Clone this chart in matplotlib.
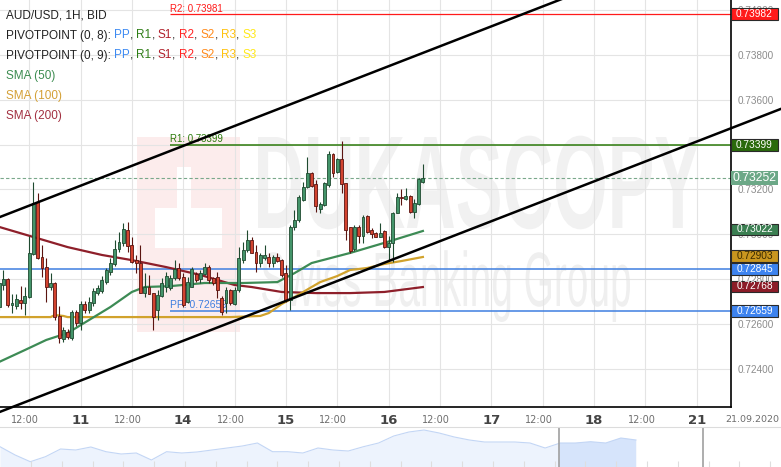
import matplotlib
matplotlib.use('Agg')
import matplotlib.pyplot as plt
import numpy as np
from matplotlib.patches import Rectangle, PathPatch
from matplotlib.textpath import TextPath
from matplotlib.font_manager import FontProperties
from matplotlib.ticker import FormatStrFormatter
from matplotlib.transforms import Affine2D, blended_transform_factory, offset_copy

W, H = 781, 467
plt.rcParams['font.family'] = 'Liberation Sans'

# hourly candles, hour 0 = 11.09 00:00 (weekend hours skipped)
first_hour = -19
opens = [0.72676, 0.72774, 0.72800, 0.72685, 0.72680, 0.72707, 0.72694, 0.72720, 0.72912, 0.73144,
         0.72898, 0.72854, 0.72765, 0.72783, 0.72636, 0.72533, 0.72564, 0.72538, 0.72653, 0.72605,
         0.72689, 0.72662, 0.72694, 0.72738, 0.72747, 0.72787, 0.72832, 0.72867, 0.72935, 0.72962,
         0.73019, 0.72953, 0.72885, 0.72872, 0.72738, 0.72765, 0.72738, 0.72662, 0.72725, 0.72765,
         0.72760, 0.72805, 0.72850, 0.72809, 0.72698, 0.72765, 0.72823, 0.72800, 0.72823, 0.72854,
         0.72805, 0.72809, 0.72716, 0.72694, 0.72752, 0.72689, 0.72752, 0.72885, 0.72930, 0.72975,
         0.72921, 0.72872, 0.72894, 0.72898, 0.72872, 0.72898, 0.72885, 0.72827, 0.72707, 0.73033,
         0.73064, 0.73153, 0.73211, 0.73274, 0.73224, 0.73113, 0.73131, 0.73220, 0.73358, 0.73278,
         0.73336, 0.73229, 0.73033, 0.72935, 0.73033, 0.72993, 0.73082, 0.73019, 0.73006, 0.72988,
         0.73015, 0.72944, 0.72962, 0.73095, 0.73166, 0.73158, 0.73171, 0.73100, 0.73135, 0.73233]
highs = [0.72796, 0.72841, 0.72805, 0.72734, 0.72734, 0.72769, 0.72765, 0.72993, 0.73233, 0.73185,
         0.72953, 0.72894, 0.72827, 0.72787, 0.72680, 0.72587, 0.72578, 0.72662, 0.72662, 0.72703,
         0.72703, 0.72720, 0.72760, 0.72774, 0.72814, 0.72850, 0.72894, 0.72975, 0.73010, 0.73051,
         0.73055, 0.72988, 0.72908, 0.72953, 0.72827, 0.72818, 0.72738, 0.72752, 0.72805, 0.72832,
         0.72818, 0.72885, 0.72872, 0.72827, 0.72809, 0.72854, 0.72832, 0.72841, 0.72872, 0.72863,
         0.72809, 0.72832, 0.72725, 0.72765, 0.72756, 0.72765, 0.72944, 0.72966, 0.73019, 0.72988,
         0.72953, 0.72917, 0.72953, 0.72917, 0.72908, 0.72917, 0.72889, 0.72863, 0.73042, 0.73108,
         0.73175, 0.73233, 0.73345, 0.73278, 0.73242, 0.73144, 0.73233, 0.73372, 0.73363, 0.73340,
         0.73416, 0.73229, 0.73033, 0.73042, 0.73042, 0.73086, 0.73086, 0.73028, 0.73010, 0.73051,
         0.73019, 0.72993, 0.73100, 0.73185, 0.73202, 0.73207, 0.73175, 0.73158, 0.73251, 0.73314]
lows = [0.72662, 0.72752, 0.72676, 0.72649, 0.72667, 0.72667, 0.72640, 0.72716, 0.72908, 0.72889,
        0.72809, 0.72698, 0.72752, 0.72618, 0.72516, 0.72520, 0.72533, 0.72529, 0.72591, 0.72573,
        0.72649, 0.72649, 0.72680, 0.72729, 0.72738, 0.72778, 0.72818, 0.72858, 0.72921, 0.72948,
        0.72921, 0.72872, 0.72827, 0.72738, 0.72720, 0.72734, 0.72573, 0.72618, 0.72720, 0.72743,
        0.72752, 0.72796, 0.72796, 0.72676, 0.72694, 0.72765, 0.72787, 0.72783, 0.72818, 0.72783,
        0.72774, 0.72716, 0.72640, 0.72649, 0.72685, 0.72685, 0.72743, 0.72872, 0.72921, 0.72917,
        0.72832, 0.72854, 0.72885, 0.72854, 0.72854, 0.72876, 0.72809, 0.72698, 0.72662, 0.73019,
        0.73055, 0.73149, 0.73207, 0.73211, 0.73100, 0.73095, 0.73126, 0.73211, 0.73256, 0.73274,
        0.73185, 0.72975, 0.72917, 0.72926, 0.72962, 0.72962, 0.73006, 0.72984, 0.72988, 0.72988,
        0.72939, 0.72885, 0.72876, 0.73095, 0.73131, 0.73153, 0.73095, 0.73073, 0.73131, 0.73229]
closes = [0.72783, 0.72800, 0.72685, 0.72694, 0.72711, 0.72694, 0.72725, 0.72917, 0.73140, 0.72894,
          0.72850, 0.72765, 0.72783, 0.72631, 0.72538, 0.72573, 0.72542, 0.72653, 0.72605, 0.72689,
          0.72662, 0.72698, 0.72747, 0.72760, 0.72796, 0.72841, 0.72872, 0.72935, 0.72966, 0.73024,
          0.72948, 0.72876, 0.72872, 0.72738, 0.72765, 0.72734, 0.72631, 0.72729, 0.72783, 0.72814,
          0.72805, 0.72845, 0.72805, 0.72685, 0.72787, 0.72845, 0.72796, 0.72827, 0.72854, 0.72796,
          0.72783, 0.72752, 0.72653, 0.72752, 0.72694, 0.72752, 0.72894, 0.72930, 0.72975, 0.72917,
          0.72872, 0.72908, 0.72908, 0.72872, 0.72898, 0.72881, 0.72818, 0.72707, 0.73033, 0.73064,
          0.73166, 0.73211, 0.73274, 0.73215, 0.73126, 0.73135, 0.73229, 0.73358, 0.73274, 0.73336,
          0.73224, 0.73019, 0.72926, 0.73033, 0.72993, 0.73078, 0.73010, 0.73001, 0.72988, 0.73006,
          0.72944, 0.72962, 0.73095, 0.73166, 0.73162, 0.73171, 0.73100, 0.73140, 0.73247, 0.73252]

sma50_h = [-19, -13, -8, -3, 2, 7, 12, 15, 21, 29, 38, 46, 50, 54, 63, 71, 80]
sma50 = [0.72431, 0.72484, 0.72529, 0.72560, 0.72618, 0.72676, 0.72743, 0.72765, 0.72769,
         0.72783, 0.72783, 0.72787, 0.72827, 0.72872, 0.72917, 0.72962, 0.73015]
sma100_h = [-19, -7, -6, -4, -3, 21, 35, 42, 44, 47, 50, 54, 56, 60, 63, 67, 71, 75, 80]
sma100 = [0.72631, 0.72631, 0.72640, 0.72636, 0.72631, 0.72631, 0.72631, 0.72636, 0.72649, 0.72689,
          0.72720, 0.72765, 0.72787, 0.72814, 0.72841, 0.72850, 0.72868, 0.72881, 0.72899]
sma200_h = [-19, -11, -3, 5, 12, 20, 28, 36, 40, 47, 55, 63, 71, 80]
sma200 = [0.73033, 0.72988, 0.72943, 0.72908, 0.72885, 0.72854, 0.72819, 0.72774, 0.72765,
          0.72743, 0.72738, 0.72738, 0.72743, 0.72765]

# pivot levels
pivot_start = 21
r2, r1, pp = 0.73981, 0.73399, 0.72659
prev_pp = 0.72845

# channel drawn by hand
channel_h = [-19, 164]
channel_low = [0.72207, 0.73562]
channel_high = [0.73076, 0.74431]

tag_values = [0.73982, 0.73399, 0.73252, 0.73022, 0.72903, 0.72845, 0.72768, 0.72659]
tag_colors = ['#ff1a1a', '#2a6a0c', '#6ca887', '#3b7f52', '#c9961f', '#3d83ef', '#8c1c28', '#3d83ef']

tick_hours = [-12, 0, 12, 24, 36, 48, 60, 72, 84, 96, 108, 120, 132, 144]
tick_labels = ['12:00', '11', '12:00', '14', '12:00', '15', '12:00', '16', '12:00', '17',
               '12:00', '18', '12:00', '21']

nav_levels = [20.3, 12, 5.3, 10.3, 18, 17, 20, 15.3, 13, 14, 7, 15.3, 14, 15, 17, 19, 21, 24,
              15.3, 15.3, 14, 19, 17, 16, 20.3, 24, 31, 35, 37, 34, 30, 27, 25, 25, 25, 24, 19,
              24, 24, 25.3, 24, 29, 27]

fig = plt.figure(figsize=(W / 100, H / 100), dpi=100)
px = Affine2D().scale(1 / W, -1 / H).translate(0, 1) + fig.transFigure

ax = fig.add_axes([0, 1 - 407 / H, 731 / W, 407 / H])
ax.set_axisbelow(True)
ax.set_xticks(tick_hours)
ax.set_yticks(np.arange(0.724, 0.7405, 0.002))
ax.set_xlim(-18.81, 151.99)
ax.set_ylim(0.72230, 0.74045)
ax.yaxis.set_major_formatter(FormatStrFormatter('%.5f'))
ax.yaxis.tick_right()
ax.tick_params(axis='x', length=0, labelbottom=False)
ax.tick_params(axis='y', length=0, pad=5, labelsize=7.2, labelcolor='#8c8c8c')
ax.grid(True, color='#e4e4e4', lw=0.8)
for s in ['top', 'left']:
    ax.spines[s].set_visible(False)
for s in ['right', 'bottom']:
    ax.spines[s].set_color('black')
    ax.spines[s].set_linewidth(1.2)


def watermark(text, left, base, width, cap, weight, color):
    fp = FontProperties(family='Liberation Sans', weight=weight)
    tp = TextPath((0, 0), text, size=1, prop=fp)
    bb = tp.get_extents()
    caph = TextPath((0, 0), 'B', size=1, prop=fp).get_extents().height
    tr = Affine2D().translate(-bb.x0, 0).scale(width / bb.width, -cap / caph).translate(left, base) + px
    ax.add_patch(PathPatch(tp, transform=tr, facecolor=color, edgecolor='none', zorder=0.3))


# faint logo and watermark
ax.add_patch(Rectangle((137, 137), 103, 195, transform=px, color='#fcecec', lw=0, zorder=0.2))
ax.add_patch(Rectangle((177, 167), 14, 41, transform=px, color='white', lw=0, zorder=0.25))
ax.add_patch(Rectangle((155, 208), 67, 40, transform=px, color='white', lw=0, zorder=0.25))
watermark('DUKASCOPY', 258, 228, 442, 91, 'bold', '#f1f1f1')
watermark('Swiss Banking Group', 262, 306, 368, 53, 'normal', '#efefef')

# pivot lines
xr = ax.get_xlim()[1]
ax.hlines(r2, pivot_start, xr, color='#ff1a1a', lw=0.9, zorder=2)
ax.hlines(r1, pivot_start, xr, color='#2b7a0b', lw=1.1, zorder=2)
ax.hlines(pp, pivot_start, xr, color='#3f7fe0', lw=1.1, zorder=2)
ax.hlines(prev_pp, ax.get_xlim()[0], xr, color='#3f7fe0', lw=1.1, zorder=2)
ax.text(pivot_start, r2 + 0.00003, 'R2: %.5f' % r2, color='#ff1a1a', fontsize=7, va='bottom', zorder=2)
ax.text(pivot_start, r1 + 0.00003, 'R1: %.5f' % r1, color='#2b7a0b', fontsize=7, va='bottom', zorder=2)
ax.text(pivot_start, pp + 0.00003, 'PP: %.5f' % pp, color='#3f7fe0', fontsize=7.5, va='bottom', zorder=2)

last = closes[-1]
ax.axhline(last, color='#7aa88b', lw=0.8, dashes=(3, 2), zorder=2)

# moving averages
ax.plot(sma200_h, sma200, color='#8e1f2a', lw=1.6, zorder=3)
ax.plot(sma100_h, sma100, color='#d1a22c', lw=1.6, zorder=3)
ax.plot(sma50_h, sma50, color='#3d8b55', lw=1.6, zorder=3)

# candles
hours = np.arange(first_hour, first_hour + len(opens))
o, hi, lo, c = map(np.array, (opens, highs, lows, closes))
up = c >= o
ax.vlines(hours[up], lo[up], hi[up], color='#1f4a30', lw=0.8, zorder=4)
ax.vlines(hours[~up], lo[~up], hi[~up], color='#5a1410', lw=0.8, zorder=4)
ax.bar(hours[up], c[up] - o[up], bottom=o[up], width=0.68, color='#44946a',
       edgecolor='#1f4a30', lw=0.6, zorder=5)
ax.bar(hours[~up], o[~up] - c[~up], bottom=c[~up], width=0.68, color='#d2432f',
       edgecolor='#5a1410', lw=0.6, zorder=5)

# channel
clip = Rectangle((0, 0), W, 407, transform=px)
for vals in (channel_low, channel_high):
    ln, = ax.plot(channel_h, vals, color='black', lw=1.8, zorder=6, clip_on=False)
    ln.set_clip_path(clip)

# price tags on the right
tagx = blended_transform_factory(px, ax.transData)
per_px = (ax.get_ylim()[1] - ax.get_ylim()[0]) / 407
for v, col in zip(tag_values, tag_colors):
    big = v == last
    hh = (14 if big else 11.5) * per_px
    ax.add_patch(Rectangle((731, v - hh / 2), 47, hh, transform=tagx, facecolor=col,
                           edgecolor='none' if big else '#2a2a2a', lw=0.8, clip_on=False, zorder=10))
    ax.text(754.5, v, '%.5f' % v, transform=tagx, ha='center', va='center', clip_on=False,
            fontsize=8.8 if big else 7.3, color='#3a2a00' if col == '#c9961f' else 'white', zorder=11)

# time labels
xt = blended_transform_factory(ax.transData, px)
for hpos, lab in zip(tick_hours, tick_labels):
    if lab == '12:00':
        ax.text(hpos, 420, lab, transform=offset_copy(xt, fig=fig, x=-4, units='dots'), ha='center',
                va='center', fontsize=7, color='#6d6d6d', family='Liberation Sans Narrow', clip_on=False)
    else:
        ax.text(hpos, 420, lab, transform=xt, ha='center', va='center', fontsize=9.5, weight='bold',
                color='#444444', family='Liberation Sans Narrow', clip_on=False)
fig.text(779 / W, 1 - 420 / H, '21.09.2020', ha='right', va='center', fontsize=6.8,
         color='#6d6d6d', family='Liberation Sans Narrow')

# legend block
renderer = fig.canvas.get_renderer()


def width_of(s, size):
    t1 = fig.text(0, 0, s + 'l', fontsize=size)
    t2 = fig.text(0, 0, 'l', fontsize=size)
    w = t1.get_window_extent(renderer).width - t2.get_window_extent(renderer).width
    t1.remove()
    t2.remove()
    return w


def legend_line(y, parts, size=8.5):
    x = 6
    for s, col in parts:
        fig.text(x / W, 1 - y / H, s, color=col, fontsize=size, va='center', ha='left')
        x += width_of(s, size)


pivot_names = ['PP', 'R1', 'S1', 'R2', 'S2', 'R3', 'S3']
pivot_colors = ['#3d8af2', '#2e7d16', '#b0202b', '#ff2424', '#ff8a1c', '#ffc20e', '#ffe81a']
legend_line(15.5, [('AUD/USD, 1H, BID', '#222222')])
for y, per in [(35.5, 8), (55.5, 9)]:
    parts = [('PIVOTPOINT (0, %d): ' % per, '#222222')]
    for i, (n, col) in enumerate(zip(pivot_names, pivot_colors)):
        parts.append((n, col))
        if i < len(pivot_names) - 1:
            parts.append((', ', '#222222'))
    legend_line(y, parts)
legend_line(76, [('SMA (50)', '#3c8c50')])
legend_line(96, [('SMA (100)', '#d4a035')])
legend_line(116, [('SMA (200)', '#a23040')])

# navigator strip
nax = fig.add_axes([0, 0, 1, 40.3 / H])
nax.set_xlim(0, W)
nax.set_ylim(0, 40.3)
nax.set_xticks([])
nax.set_yticks([])
for s in ['left', 'right', 'bottom']:
    nax.spines[s].set_visible(False)
nax.spines['top'].set_color('#dcdcdc')
nav_x = np.linspace(0, 636, len(nav_levels))
area = nax.fill_between(nav_x, nav_levels, color='#edf3fd', lw=0)
win = nax.axvspan(559, 636, color='#d6e4fb', lw=0)
win.set_clip_path(area.get_paths()[0], area.get_transform())
nax.plot(nav_x, nav_levels, color='#c3d6f5', lw=0.8)
nax.vlines(np.arange(31, W, 30.8), 0, 6, color='#dedede', lw=0.8)
nax.axvline(559, color='#a0a0a0', lw=1.2)
nax.axvline(703, color='#a0a0a0', lw=1.2)

fig.savefig('out.png', dpi=100)
